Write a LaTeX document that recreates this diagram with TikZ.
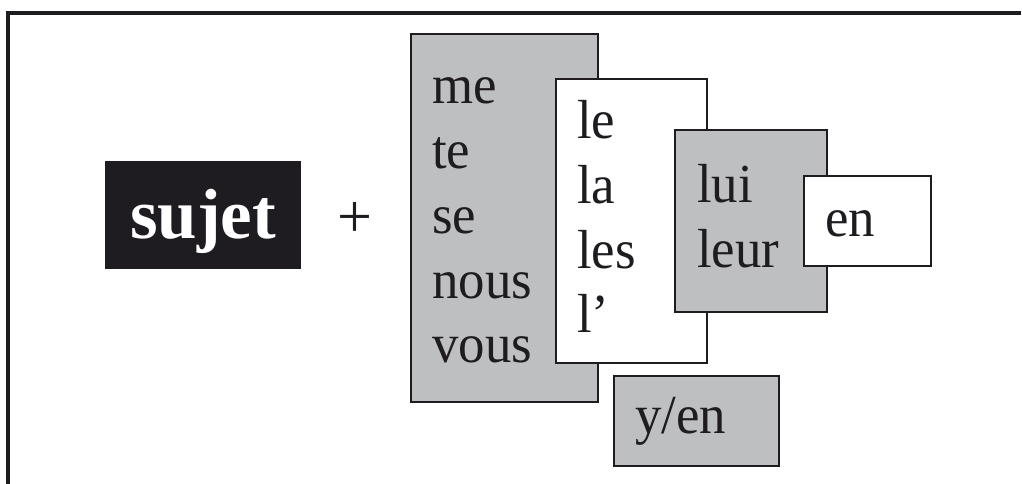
\documentclass[tikz,border=0pt]{standalone}
\usepackage{fontspec}
\setmainfont{Liberation Serif}
\newfontfamily\wordfont[FakeStretch=0.96]{Liberation Serif}
\definecolor{ink}{HTML}{1E1C20}
\definecolor{boxgray}{HTML}{BEBFC1}
\begin{document}
\begin{tikzpicture}[x=1pt,y=-1pt,
  framestyle/.style={line width=4pt, draw=ink, line join=miter},
  pbox/.style={draw=ink, line width=2.4pt, inner sep=0pt, outer sep=0pt, anchor=north west},
  graybox/.style={pbox, fill=boxgray},
  whitebox/.style={pbox, fill=white},
  word/.style={anchor=base west, inner sep=0pt, text=ink, font=\wordfont\fontsize{55}{55}\selectfont},
]
\useasboundingbox (0,0) rectangle (1022,483);
% frame
\coordinate (fb) at (8,490);
\coordinate (fc) at (8,13);
\coordinate (fr) at (1021,13);
\draw[framestyle] (fb) -- (fc) -- (fr);
% sujet
\node[fill=ink, inner sep=0pt, minimum width=196pt, minimum height=108pt, anchor=north west] (sbox) at (105,161) {};
\node[anchor=base, inner sep=0pt, text=white, font=\bfseries\fontsize{71}{71}\selectfont] (sujet) at (203,238) {sujet};
\node[anchor=center, inner sep=0pt, text=ink, font=\fontsize{62}{62}\selectfont] (plus) at (355,220) {+};
% boxes
\node[graybox, minimum width=187pt, minimum height=368pt] (b1) at (411,34) {};
\node[whitebox, minimum width=151pt, minimum height=284pt] (b2) at (556,79) {};
\node[graybox, minimum width=152pt, minimum height=182pt] (b3) at (675,130) {};
\node[whitebox, minimum width=127pt, minimum height=90pt] (b4) at (804,176) {};
\node[graybox, minimum width=165pt, minimum height=90pt] (b5) at (614,376) {};
% words box 1
\node[word] (me) at (432,103) {me};
\node[word] (te) at (432,168) {te};
\node[word] (se) at (432,233) {se};
\node[word] (nous) at (432,298) {nous};
\node[word] (vous) at (432,362) {vous};
% words box 2
\node[word] (le) at (577,138) {le};
\node[word] (la) at (577,203) {la};
\node[word] (les) at (577,268) {les};
\node[word] (lap) at (577,332) {l’};
% words box 3
\node[word] (lui) at (697,202) {lui};
\node[word] (leur) at (697,267) {leur};
% en
\node[word] (en) at (825,236) {en};
% y/en
\node[word] (yen) at (635,433) {y/en};
\end{tikzpicture}
\end{document}
